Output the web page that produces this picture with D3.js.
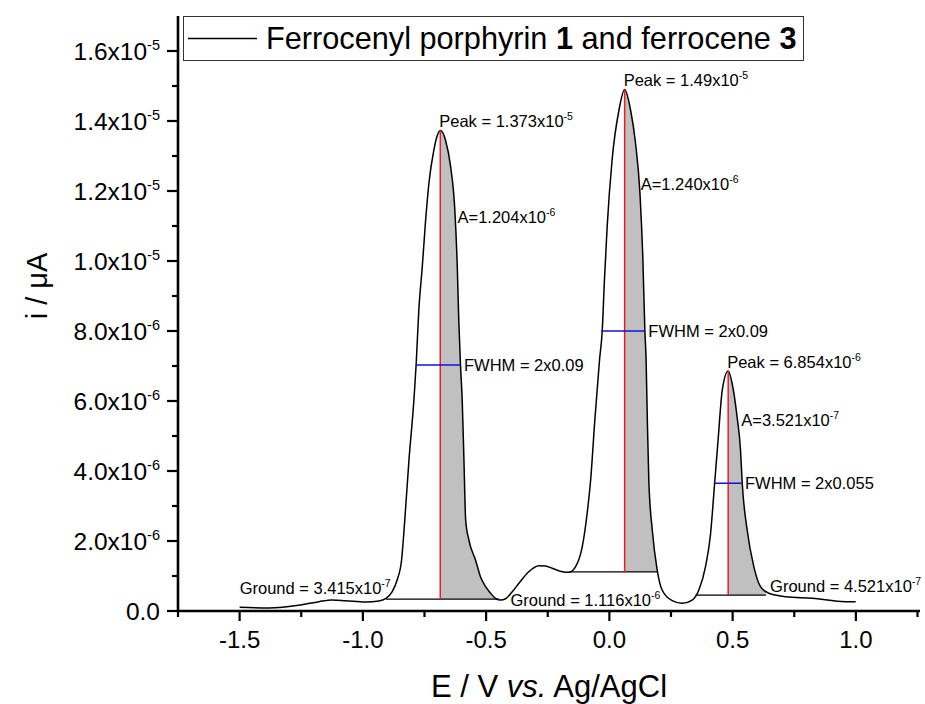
<!DOCTYPE html>
<html><head><meta charset="utf-8">
<script src="https://cdn.jsdelivr.net/npm/d3@7"></script>
<style>
body{margin:0;background:#fff}
text{font-family:"Liberation Sans",Arial,Helvetica,sans-serif;fill:#000}
</style>
</head><body>
<svg id="chart" width="925" height="704"></svg>
<script>
// ---- data (E in V, i in A) ----
const potential = [-1.500,-1.381,-1.253,-1.178,-1.125,-1.070,-0.989,-0.935,-0.908,-0.881,-0.861,-0.843,-0.830,-0.813,-0.793,-0.784,-0.773,-0.759,-0.746,-0.732,-0.712,-0.700,-0.686,-0.675,-0.665,-0.644,-0.627,-0.617,-0.611,-0.604,-0.597,-0.590,-0.583,-0.570,-0.543,-0.523,-0.502,-0.482,-0.462,-0.441,-0.421,-0.394,-0.367,-0.327,-0.286,-0.259,-0.232,-0.191,-0.164,-0.137,-0.110,-0.090,-0.076,-0.059,-0.040,-0.029,-0.020,-0.009,0.011,0.039,0.062,0.086,0.106,0.124,0.136,0.144,0.149,0.154,0.160,0.174,0.194,0.214,0.255,0.295,0.336,0.363,0.390,0.410,0.427,0.441,0.458,0.482,0.498,0.518,0.532,0.539,0.559,0.586,0.613,0.647,0.715,0.823,0.958,0.999];
const current = [0.106,0.086,0.171,0.266,0.314,0.294,0.257,0.286,0.351,0.551,0.886,1.457,2.600,4.314,6.029,7.029,8.600,9.837,11.114,12.229,13.171,13.543,13.730,13.657,13.457,12.694,11.457,9.837,8.314,7.029,6.029,4.314,2.600,2.029,1.457,0.980,0.694,0.506,0.363,0.314,0.351,0.551,0.791,1.123,1.294,1.286,1.220,1.123,1.106,1.266,1.837,2.800,3.743,5.457,7.171,8.009,9.457,10.980,12.886,14.314,14.900,14.314,13.371,11.943,10.029,8.009,7.171,5.457,3.743,2.314,1.171,0.600,0.294,0.220,0.314,0.600,1.266,2.171,3.649,4.886,6.314,6.854,6.506,5.551,4.600,3.649,2.314,1.266,0.694,0.506,0.409,0.363,0.266,0.266].map(v => v * 1e-6);

const peakE = [-0.686, 0.062, 0.482];
const peakI = [1.373e-5, 1.49e-5, 6.854e-6];
const groundI = [3.415e-7, 1.116e-6, 4.521e-7];
const groundStartE = [-0.906, -0.164, 0.349];
const groundEndE = [-0.448, 0.195, 0.635];
const fwhmLeftE = [-0.784, -0.033, 0.424];
const fwhmRightE = [-0.604, 0.144, 0.536];
const fwhmI = [7.03e-6, 8.0e-6, 3.65e-6];

const peakText = [["Peak = 1.373x10","-5"],["Peak = 1.49x10","-5"],["Peak = 6.854x10","-6"]];
const areaText = [["A=1.204x10","-6"],["A=1.240x10","-6"],["A=3.521x10","-7"]];
const fwhmText = ["FWHM = 2x0.09","FWHM = 2x0.09","FWHM = 2x0.055"];
const groundText = [["Ground = 3.415x10","-7"],["Ground = 1.116x10","-6"],["Ground = 4.521x10","-7"]];

const xTickValues = [-1.5,-1.0,-0.5,0.0,0.5,1.0];
const xTickLabels = ["-1.5","-1.0","-0.5","0.0","0.5","1.0"];
const yTickValues = [0,2e-6,4e-6,6e-6,8e-6,1e-5,1.2e-5,1.4e-5,1.6e-5];
const yTickMantissa = ["0.0","2.0x10","4.0x10","6.0x10","8.0x10","1.0x10","1.2x10","1.4x10","1.6x10"];
const yTickExponent = ["","-6","-6","-6","-6","-5","-5","-5","-5"];
const legendLabel = ["Ferrocenyl porphyrin ","1"," and ferrocene ","3"];

// label anchors (data space) for area and ground texts
const areaLabelE = [-0.616, 0.127, 0.535];
const areaLabelI = [11.09e-6, 12.03e-6, 5.29e-6];
const groundLabelE = [-1.5, -0.401, 0.652];
const groundLabelI = [0.486e-6, 0.143e-6, 0.551e-6];

// ---- layout ----
const svg = d3.select("#chart");
const x = d3.scaleLinear().domain([-1.75, 1.25]).range([178, 917.5]);
const y = d3.scaleLinear().domain([0, 1.7e-5]).range([611, 16]);

const pts = potential.map((e, k) => [e, current[k]]);
const lineGen = d3.line().x(d => x(d[0])).y(d => y(d[1])).curve(d3.curveMonotoneX);

// shaded areas
const defs = svg.append("defs");
peakE.forEach((pe, k) => {
  defs.append("clipPath").attr("id", "clip" + k).append("rect")
    .attr("x", x(pe)).attr("y", 0)
    .attr("width", x(groundEndE[k]) - x(pe))
    .attr("height", y(groundI[k]));
  const areaGen = d3.area().x(d => x(d[0])).y0(y(groundI[k])).y1(d => y(d[1])).curve(d3.curveMonotoneX);
  svg.append("path").datum(pts).attr("d", areaGen)
    .attr("fill", "#c0c0c0").attr("stroke", "none").attr("clip-path", "url(#clip" + k + ")");
});

// ground lines
peakE.forEach((pe, k) => {
  svg.append("line").attr("x1", x(groundStartE[k])).attr("x2", x(groundEndE[k]))
    .attr("y1", y(groundI[k])).attr("y2", y(groundI[k]))
    .attr("stroke", "#000").attr("stroke-width", 1.3);
});

// curve
svg.append("path").datum(pts).attr("d", lineGen)
  .attr("fill", "none").attr("stroke", "#000").attr("stroke-width", 1.5);

// red peak lines
peakE.forEach((pe, k) => {
  svg.append("line").attr("x1", x(pe)).attr("x2", x(pe))
    .attr("y1", y(peakI[k])).attr("y2", y(groundI[k]))
    .attr("stroke", "#ee1c1c").attr("stroke-width", 1.5);
});
// blue fwhm lines
peakE.forEach((pe, k) => {
  svg.append("line").attr("x1", x(fwhmLeftE[k])).attr("x2", x(fwhmRightE[k]))
    .attr("y1", y(fwhmI[k])).attr("y2", y(fwhmI[k]))
    .attr("stroke", "#1010e0").attr("stroke-width", 1.5);
});

// helper for text with superscript
function supText(g, px, py, main, sup, size, supSize, supDy, anchor) {
  const t = g.append("text").attr("x", px).attr("y", py)
    .attr("font-size", size).attr("text-anchor", anchor || "start");
  t.append("tspan").text(main);
  if (sup) {
    t.append("tspan").attr("font-size", supSize).attr("dy", supDy).text(sup);
  }
  return t;
}

const ann = svg.append("g");
const annSize = 16.5;
peakE.forEach((pe, k) => {
  supText(ann, x(pe) - 1, y(peakI[k]) - 3.5, peakText[k][0], peakText[k][1], annSize, 10.5, -7);
  supText(ann, x(areaLabelE[k]), y(areaLabelI[k]), areaText[k][0], areaText[k][1], annSize, 10.5, -7);
  ann.append("text").attr("x", x(fwhmRightE[k]) + 3.5).attr("y", y(fwhmI[k]) + 6)
    .attr("font-size", annSize).text(fwhmText[k]);
  supText(ann, x(groundLabelE[k]), y(groundLabelI[k]), groundText[k][0], groundText[k][1], annSize, 10.5, -7);
});

// axes
const axisColor = "#000";
const yAxisG = svg.append("g");
yAxisG.append("line").attr("x1", 178).attr("x2", 178).attr("y1", y(0) + 1).attr("y2", y(1.7e-5))
  .attr("stroke", axisColor).attr("stroke-width", 2.6);
const yMinor = d3.range(1e-6, 1.7e-5, 2e-6);
yMinor.forEach(v => {
  yAxisG.append("line").attr("x1", 178).attr("x2", 172).attr("y1", y(v)).attr("y2", y(v))
    .attr("stroke", axisColor).attr("stroke-width", 2.2);
});
yTickValues.forEach((v, k) => {
  yAxisG.append("line").attr("x1", 178).attr("x2", 167).attr("y1", y(v)).attr("y2", y(v))
    .attr("stroke", axisColor).attr("stroke-width", 2.2);
  supText(yAxisG, 160, y(v) + 8.5, yTickMantissa[k], yTickExponent[k], 24.5, 14.5, -10, "end");
});

const xAxisG = svg.append("g");
xAxisG.append("line").attr("x1", 177).attr("x2", 920).attr("y1", 611).attr("y2", 611)
  .attr("stroke", axisColor).attr("stroke-width", 2.6);
const xMinor = d3.range(-1.75, 1.26, 0.5);
xMinor.forEach(v => {
  xAxisG.append("line").attr("x1", x(v)).attr("x2", x(v)).attr("y1", 611).attr("y2", 617)
    .attr("stroke", axisColor).attr("stroke-width", 2.2);
});
xTickValues.forEach((v, k) => {
  xAxisG.append("line").attr("x1", x(v)).attr("x2", x(v)).attr("y1", 611).attr("y2", 621)
    .attr("stroke", axisColor).attr("stroke-width", 2.2);
  xAxisG.append("text").attr("x", x(v)).attr("y", 648).attr("text-anchor", "middle")
    .attr("font-size", 24).text(xTickLabels[k]);
});

// axis titles
const xt = svg.append("text").attr("x", 549).attr("y", 697).attr("text-anchor", "middle").attr("font-size", 31);
xt.append("tspan").text("E / V ");
xt.append("tspan").attr("font-style", "italic").text("vs.");
xt.append("tspan").text(" Ag/AgCl");

svg.append("text").attr("transform", "translate(47,286) rotate(-90)")
  .attr("text-anchor", "middle").attr("font-size", 29).text("i / μA");

// legend
const lg = svg.append("g");
lg.append("rect").attr("x", 183.5).attr("y", 16.5).attr("width", 620).attr("height", 44)
  .attr("fill", "#fff").attr("stroke", "#333").attr("stroke-width", 1);
lg.append("line").attr("x1", 188).attr("x2", 257).attr("y1", 38.5).attr("y2", 38.5)
  .attr("stroke", "#000").attr("stroke-width", 1.4);
const lt = lg.append("text").attr("x", 266).attr("y", 49).attr("font-size", 30.7);
legendLabel.forEach((s, k) => {
  lt.append("tspan").attr("font-weight", k % 2 === 1 ? "bold" : "normal").text(s);
});
</script>
</body></html>
